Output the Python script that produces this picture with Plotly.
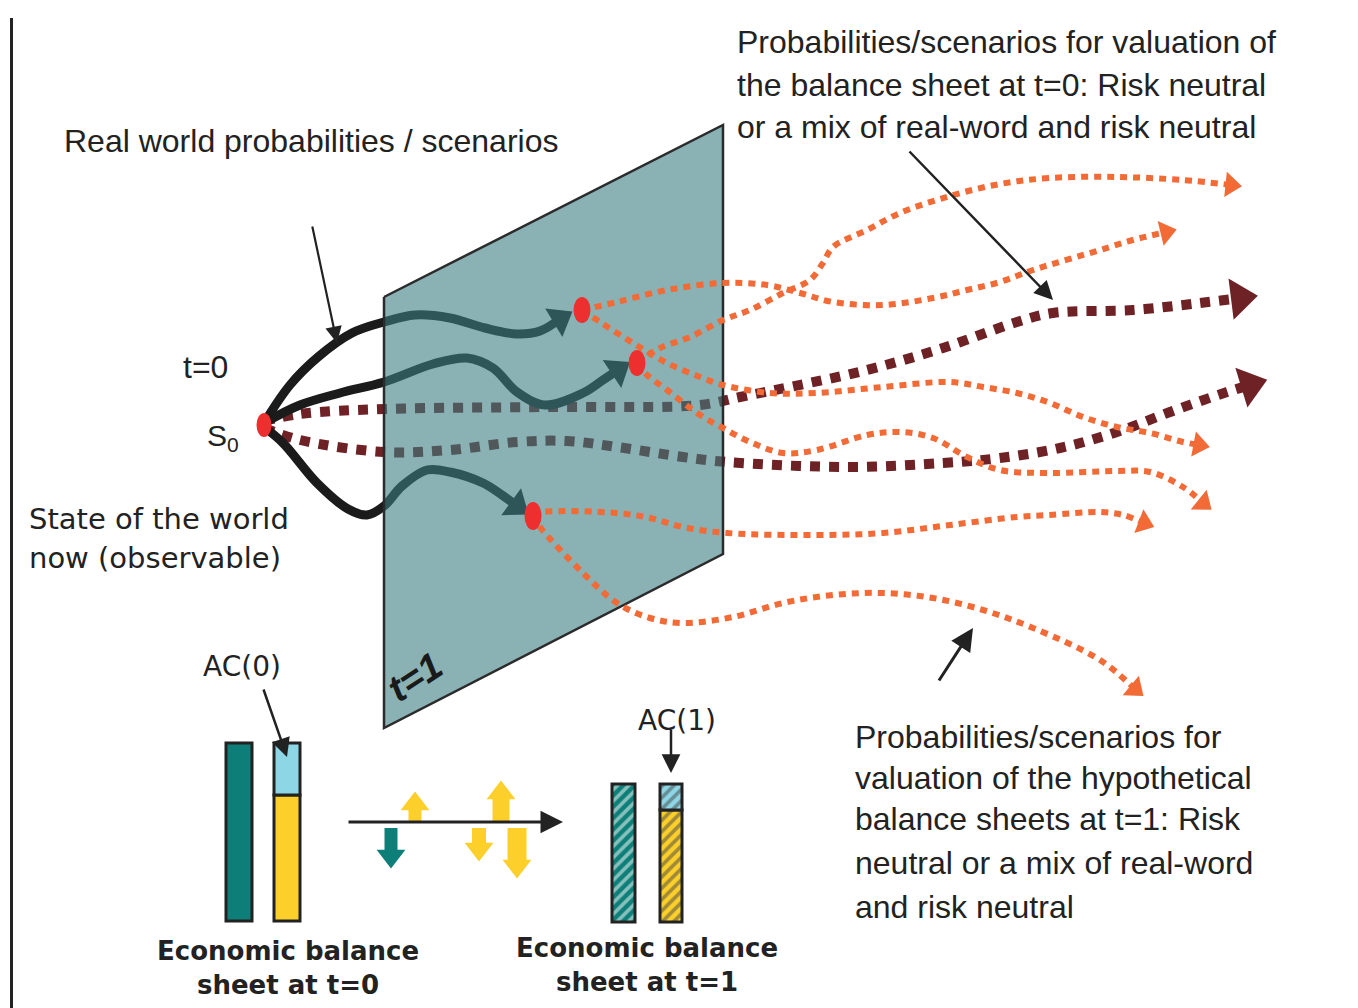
import math
import plotly.graph_objects as go

W, H = 1358, 1008
INK = "#222222"
ORANGE = "#f26a35"
MAROON = "#6e2226"
TEAL = "#0e7f78"
YELLOW = "#fccf2b"
LIGHTBLUE = "#8dd6e6"
RED = "#ee2f2f"
BLACK = "#1b1b1b"
SANS = "Arial, Liberation Sans, sans-serif"
VERD = "DejaVu Sans, Verdana, sans-serif"

# ---------------- data ----------------
# plane "t=1"
plane_x = [384, 723, 723, 384, 384]
plane_y = [297, 125, 554, 728, 297]

# states: S0 and the three real-world states at t=1
node_x = [264, 582, 637, 533]
node_y = [425, 310, 363, 516]
node_rx = [7.5, 8.5, 8.5, 8.5]
node_ry = [12, 13, 13, 14]

# real-world paths (S0 -> t=1 states)
rw1_x = [264, 290, 318, 352, 384, 415, 450, 485, 517, 540, 560]
rw1_y = [423, 385, 357, 333, 322, 315, 318, 328, 334, 331, 319]
rw2_x = [264, 300, 340, 384, 433, 467, 493, 517, 545, 583, 603, 618]
rw2_y = [423, 405, 393, 382, 364, 358, 368, 392, 405, 393, 380, 370]
rw3_x = [264, 283, 317, 348, 367, 384, 402, 427, 450, 483, 502, 517]
rw3_y = [427, 443, 483, 509, 515, 506, 486, 470, 472, 483, 495, 506]

# risk-neutral paths for t=0 valuation (maroon)
mu_x = [264, 300, 384, 550, 700, 740, 790, 867, 943, 1017, 1053, 1133, 1200, 1240]
mu_y = [421, 414, 409, 407, 405, 397, 387, 370, 348, 322, 313, 310, 303, 298]
ml_x = [264, 300, 384, 450, 517, 567, 617, 683, 727, 850, 943, 1000, 1060, 1117, 1170, 1227, 1250]
ml_y = [428, 440, 452, 450, 442, 441, 447, 457, 462, 467, 463, 458, 448, 432, 412, 392, 385]

# paths for t=1 valuation (orange)
o1_x = [582, 617, 667, 723, 767, 800, 833, 883, 933, 967, 1000, 1033, 1100, 1133, 1166]
o1_y = [310, 302, 290, 283, 285, 293, 302, 305, 298, 290, 282, 270, 250, 240, 232]
o2_x = [637, 660, 690, 723, 750, 783, 810, 823, 833, 867, 900, 950, 1000, 1050, 1117, 1183, 1231]
o2_y = [363, 348, 337, 320, 310, 293, 280, 263, 247, 230, 213, 196, 184, 178, 177, 180, 185]
o3_x = [582, 600, 633, 667, 700, 723, 770, 817, 883, 950, 983, 1017, 1050, 1083, 1117, 1150, 1183, 1199]
o3_y = [310, 322, 343, 363, 377, 385, 393, 393, 387, 382, 387, 393, 403, 417, 427, 433, 442, 445]
o4_x = [637, 647, 667, 700, 723, 750, 783, 817, 867, 900, 933, 967, 1000, 1050, 1117, 1150, 1183, 1203]
o4_y = [363, 375, 390, 415, 428, 442, 453, 450, 435, 432, 438, 457, 470, 473, 471, 472, 487, 503]
o5_x = [533, 543, 617, 650, 683, 727, 817, 883, 950, 1017, 1050, 1100, 1123, 1144]
o5_y = [515, 512, 513, 518, 527, 533, 535, 533, 525, 517, 515, 512, 515, 523]
o6_x = [533, 540, 583, 617, 650, 683, 733, 783, 833, 883, 933, 983, 1033, 1100, 1135]
o6_y = [515, 527, 573, 603, 618, 623, 617, 603, 595, 593, 598, 610, 628, 660, 689]

# balance sheet segments
seg_x = [239, 287, 287, 623.5, 671, 671]
seg_w = [26, 26, 26, 23, 22, 22]
seg_bottom = [921, 921, 795, 922, 922, 810]
seg_top = [743, 795, 743, 784, 810, 784]
seg_color = [TEAL, YELLOW, LIGHTBLUE, TEAL, YELLOW, LIGHTBLUE]
seg_hatch = ["", "", "", "/", "/", "/"]

# value-change flows between t=0 and t=1
flow_x = [391, 415, 501, 479, 517]
flow_base = [828, 821, 821, 828, 828]
flow_tip = [868, 792, 781, 861, 878]
flow_color = [TEAL, YELLOW, YELLOW, YELLOW, YELLOW]
flow_shaft = [13, 13, 17, 14, 19]

# pointer arrows (tail -> tip)
ptr_tail_x = [312, 908, 938, 263, 671, 347]
ptr_tail_y = [225, 150, 682, 688, 728, 822]
ptr_tip_x = [337, 1053, 973, 287, 671, 563]
ptr_tip_y = [343, 300, 628, 757, 773, 822]
ptr_w = [2.2, 2.5, 3, 2.5, 2.5, 3]

# ---------------- figure ----------------
fig = go.Figure()
heads = []  # (x, y, angle, size, color)


def add_path(xs, ys, color, width, dash, head):
    fig.add_trace(go.Scatter(
        x=xs, y=ys, mode="lines",
        line=dict(color=color, width=width, dash=dash, shape="spline", smoothing=1.0),
        hoverinfo="skip", showlegend=False))
    dx = xs[-1] - xs[-2]
    dy = ys[-1] - ys[-2]          # screen y grows downward (reversed axis)
    ang = math.degrees(math.atan2(dx, -dy))
    fig.add_trace(go.Scatter(
        x=[xs[-1]], y=[ys[-1]], mode="markers",
        marker=dict(symbol="triangle-up", size=head, color=color, angle=ang,
                    opacity=1, line=dict(width=0)),
        hoverinfo="skip", showlegend=False))


MDASH = "10px,9px"
ODASH = "7px,6px"
add_path(mu_x, mu_y, MAROON, 10, MDASH, 36)
add_path(ml_x, ml_y, MAROON, 10, MDASH, 36)
add_path(rw1_x, rw1_y, BLACK, 9, "solid", 29)
add_path(rw2_x, rw2_y, BLACK, 9, "solid", 29)
add_path(rw3_x, rw3_y, BLACK, 9, "solid", 29)

# plane (semi-transparent)
fig.add_trace(go.Scatter(x=plane_x, y=plane_y, mode="lines", fill="toself",
                         fillcolor="rgba(60,125,128,0.6)",
                         line=dict(color="#2b2b2b", width=2.5),
                         hoverinfo="skip", showlegend=False))

for xs, ys in [(o1_x, o1_y), (o2_x, o2_y), (o3_x, o3_y), (o4_x, o4_y), (o5_x, o5_y), (o6_x, o6_y)]:
    add_path(xs, ys, ORANGE, 6, ODASH, 22)

# balance sheets
fig.add_trace(go.Bar(
    x=seg_x, y=[t - b for t, b in zip(seg_top, seg_bottom)], base=seg_bottom, width=seg_w,
    marker=dict(color=seg_color, line=dict(color=INK, width=3),
                pattern=dict(shape=seg_hatch, bgcolor="white", size=8, solidity=0.45)),
    hoverinfo="skip", showlegend=False))

# flows
for fx, fb, ft, fc, fw in zip(flow_x, flow_base, flow_tip, flow_color, flow_shaft):
    up = ft < fb
    centre = ft + 12 if up else ft - 12
    fig.add_trace(go.Scatter(x=[fx, fx], y=[fb, centre], mode="lines",
                             line=dict(color=fc, width=fw), hoverinfo="skip", showlegend=False))
    fig.add_trace(go.Scatter(x=[fx], y=[centre], mode="markers",
                             marker=dict(symbol="triangle-up" if up else "triangle-down",
                                         size=25, color=fc, line=dict(width=0)),
                             hoverinfo="skip", showlegend=False))

shapes = [dict(type="line", xref="x", yref="y", x0=11.5, x1=11.5, y0=18, y1=1008,
               line=dict(color=INK, width=3))]
for cx, cy, rx, ry in zip(node_x, node_y, node_rx, node_ry):
    shapes.append(dict(type="circle", xref="x", yref="y", x0=cx - rx, x1=cx + rx,
                       y0=cy - ry, y1=cy + ry, fillcolor=RED, line=dict(width=0), layer="above"))

ann = []
for tx, ty, hx, hy, w in zip(ptr_tail_x, ptr_tail_y, ptr_tip_x, ptr_tip_y, ptr_w):
    ann.append(dict(x=hx, y=hy, ax=tx, ay=ty, xref="x", yref="y", axref="x", ayref="y",
                    text="", showarrow=True, arrowhead=2, arrowsize=1.5, arrowwidth=w,
                    arrowcolor=INK, standoff=0))


def label(text, x, y, size, family=SANS, xanchor="left", bold=False, **kw):
    ann.append(dict(x=x, y=y, xref="x", yref="y", text=f"<b>{text}</b>" if bold else text,
                    showarrow=False, xanchor=xanchor, yanchor="middle",
                    font=dict(family=family, size=size, color=INK), **kw))


label("Real world probabilities / scenarios", 62, 141, 32)
for i, t in enumerate(["Probabilities/scenarios for valuation of",
                       "the balance sheet at t=0: Risk neutral",
                       "or a mix of real-word and risk neutral"]):
    label(t, 735, [42, 85, 127][i], 32)
for i, t in enumerate(["Probabilities/scenarios for",
                       "valuation of the hypothetical",
                       "balance sheets at t=1: Risk",
                       "neutral or a mix of real-word",
                       "and risk neutral"]):
    label(t, 853, [737, 778, 819, 863, 907][i], 32)
label("t=0", 181, 367, 32)
label("S<sub>0</sub>", 205, 437, 30)
label("State of the world", 27, 519, 29, VERD)
label("now (observable)", 27, 558, 29, VERD)
label("AC(0)", 242, 666, 28, VERD, xanchor="center")
label("AC(1)", 677, 720, 28, VERD, xanchor="center")
label("Economic balance", 288, 951, 26, VERD, xanchor="center", bold=True)
label("sheet at t=0", 288, 985, 26, VERD, xanchor="center", bold=True)
label("Economic balance", 647, 948, 26, VERD, xanchor="center", bold=True)
label("sheet at t=1", 647, 982, 26, VERD, xanchor="center", bold=True)
ann.append(dict(x=415, y=677, xref="x", yref="y", text="<b><i>t=1</i></b>", showarrow=False,
                textangle=-33, font=dict(family=SANS, size=38, color="#1a1a1a")))

fig.update_layout(
    width=W, height=H, margin=dict(l=0, r=0, t=0, b=0),
    paper_bgcolor="white", plot_bgcolor="white", barmode="overlay",
    xaxis=dict(range=[0, W], visible=False, fixedrange=True),
    yaxis=dict(range=[H, 0], visible=False, fixedrange=True),
    shapes=shapes, annotations=ann, showlegend=False)

fig.write_html("out.html", config={"displayModeBar": False},
               post_script="document.body.style.margin='0';")
